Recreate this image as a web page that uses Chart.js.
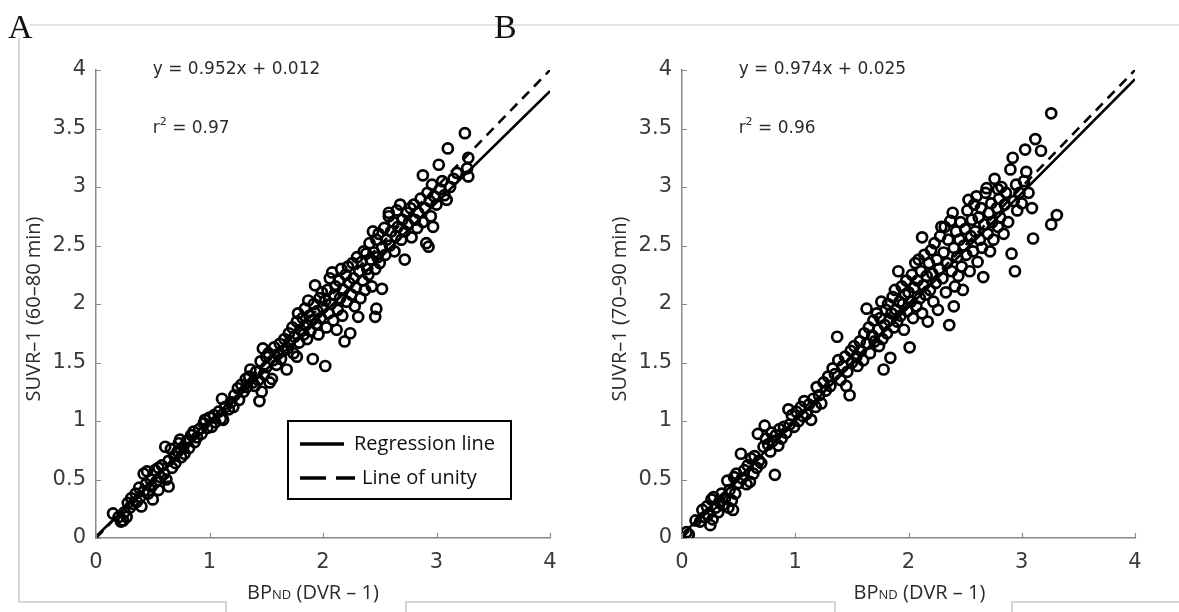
<!DOCTYPE html>
<html lang="en">
<head>
<meta charset="UTF-8">
<title>SUVR-1 vs BPND</title>
<script src="https://cdn.jsdelivr.net/npm/chart.js"></script>
<style>
  body { margin: 0; background: #fff; }
  #wrap { position: relative; width: 1179px; height: 612px; overflow: hidden; background: #fff; }
  #wrap canvas { position: absolute; top: 0; }
  .rule { position: absolute; background: #d6d6d6; }
  .tag { position: absolute; font-family: "Liberation Serif", "DejaVu Serif", serif; font-size: 34px; line-height: 1; color: #111; }
</style>
</head>
<body>
<div id="wrap">
  <!-- thin frame around the two panels -->
  <div class="rule" style="left:30px;top:24px;width:1149px;height:2px;background:#e2e2e2"></div>
  <div class="rule" style="left:18px;top:38px;width:2px;height:565px"></div>
  <div class="rule" style="left:18px;top:601px;width:208px;height:2px"></div>
  <div class="rule" style="left:225px;top:601px;width:2px;height:11px"></div>
  <div class="rule" style="left:405px;top:601px;width:430px;height:2px"></div>
  <div class="rule" style="left:405px;top:601px;width:2px;height:11px"></div>
  <div class="rule" style="left:834px;top:601px;width:2px;height:11px"></div>
  <div class="rule" style="left:1011px;top:601px;width:168px;height:2px"></div>
  <div class="rule" style="left:1011px;top:601px;width:2px;height:11px"></div>

  <canvas id="panelA" width="590" height="612" style="left:0"></canvas>
  <canvas id="panelB" width="589" height="612" style="left:590px"></canvas>

  <div class="tag" style="left:8px;top:10px">A</div>
  <div class="tag" style="left:494px;top:10px">B</div>
</div>

<script>
// axis ticks shared by both panels
const xTicks = [0, 1, 2, 3, 4];
const yTicks = [0, 0.5, 1, 1.5, 2, 2.5, 3, 3.5, 4];

// regression fits printed on each panel
const fitA = [0.952, 0.012];
const fitB = [0.974, 0.025];
const r2A = 0.97;
const r2B = 0.96;

const yTitleA = 'SUVR\u20131 (60\u201380 min)';
const yTitleB = 'SUVR\u20131 (70\u201390 min)';
const legendLabels = ['Regression line', 'Line of unity'];

// [BPND, SUVR-1] per region, 60-80 min window
const pointsA = [
  [0.15,0.21],[0.20,0.18],[0.22,0.14],[0.24,0.15],[0.25,0.22],[0.27,0.18],[0.28,0.30],[0.30,0.26],
  [0.31,0.34],[0.33,0.29],[0.35,0.38],[0.36,0.31],[0.38,0.43],[0.39,0.35],[0.40,0.27],[0.42,0.40],
  [0.42,0.55],[0.44,0.46],[0.45,0.57],[0.46,0.38],[0.48,0.50],[0.49,0.44],[0.50,0.33],
  [0.52,0.58],[0.53,0.48],[0.55,0.41],[0.55,0.60],[0.57,0.52],[0.58,0.62],[0.60,0.55],[0.61,0.78],
  [0.62,0.50],[0.64,0.44],[0.64,0.66],[0.66,0.76],[0.67,0.60],[0.69,0.70],[0.70,0.64],[0.72,0.74],
  [0.73,0.81],[0.74,0.84],[0.75,0.69],[0.77,0.78],[0.78,0.72],[0.80,0.83],[0.82,0.77],[0.84,0.88],
  [0.86,0.91],[0.87,0.82],[0.89,0.86],[0.91,0.93],[0.93,0.89],[0.95,0.98],[0.96,1.01],[0.98,0.94],
  [1.00,1.03],[1.02,0.95],
  [1.04,1.05],[1.05,0.99],[1.08,1.08],[1.10,1.02],[1.11,1.19],[1.12,1.01],[1.14,1.12],[1.17,1.10],
  [1.19,1.16],[1.21,1.12],[1.22,1.22],[1.25,1.28],[1.26,1.18],[1.28,1.31],[1.30,1.25],[1.32,1.36],
  [1.33,1.29],[1.35,1.38],[1.36,1.44],[1.38,1.33],[1.40,1.30],[1.41,1.42],[1.43,1.35],[1.44,1.17],
  [1.45,1.51],[1.46,1.25],[1.47,1.62],[1.48,1.40],[1.50,1.55],[1.50,1.46],
  [1.52,1.58],[1.53,1.33],[1.55,1.36],[1.56,1.52],[1.57,1.63],[1.59,1.48],[1.60,1.57],[1.62,1.66],
  [1.63,1.53],[1.65,1.60],[1.66,1.70],[1.68,1.44],[1.69,1.62],[1.70,1.75],[1.71,1.68],[1.73,1.80],
  [1.74,1.58],[1.75,1.72],[1.77,1.55],[1.77,1.85],[1.78,1.92],[1.79,1.67],[1.80,1.78],[1.82,1.88],
  [1.83,1.74],[1.84,1.96],[1.85,1.82],[1.86,1.70],[1.87,2.03],[1.88,1.90],[1.89,1.77],[1.90,1.86],
  [1.91,1.53],[1.92,2.00],[1.93,2.16],[1.94,1.83],[1.95,1.94],[1.96,1.74],[1.97,2.05],[1.98,1.88],
  [1.99,2.10],[2.00,1.97],
  [2.02,1.47],[2.02,2.03],[2.03,1.80],[2.04,2.12],[2.05,1.92],[2.06,2.22],[2.07,2.00],[2.08,2.27],
  [2.09,1.86],[2.10,2.08],[2.11,2.15],[2.12,1.78],[2.13,1.95],[2.14,2.20],[2.15,2.05],[2.16,2.30],
  [2.17,1.90],[2.18,2.12],[2.19,1.68],[2.20,2.25],[2.21,2.02],[2.22,2.32],[2.23,2.18],[2.24,1.75],
  [2.25,2.08],[2.26,2.35],[2.27,2.22],[2.28,1.98],[2.29,2.14],[2.30,2.40],[2.31,1.89],[2.32,2.28],
  [2.33,2.05],[2.34,2.36],[2.35,2.20],[2.36,2.45],[2.37,2.12],[2.38,2.43],[2.39,2.30],[2.40,2.25],
  [2.41,2.52],[2.42,2.38],[2.43,2.15],[2.44,2.62],[2.45,2.44],[2.46,1.89],[2.46,2.30],[2.47,1.96],
  [2.47,2.55],[2.48,2.40],[2.49,2.60],[2.50,2.35],[2.52,2.13],
  [2.52,2.48],[2.54,2.65],[2.55,2.42],[2.56,2.55],[2.58,2.78],[2.58,2.75],[2.59,2.50],[2.60,2.62],
  [2.62,2.70],[2.63,2.45],[2.64,2.58],[2.65,2.80],[2.66,2.66],[2.68,2.85],[2.69,2.55],[2.70,2.72],
  [2.72,2.38],[2.72,2.62],[2.74,2.78],[2.75,2.68],[2.77,2.82],[2.78,2.57],[2.80,2.85],[2.81,2.72],
  [2.83,2.65],[2.84,2.78],[2.86,2.90],[2.88,3.10],[2.88,2.70],[2.90,2.82],[2.91,2.52],[2.92,2.95],
  [2.93,2.49],[2.94,2.88],[2.95,2.75],[2.96,3.02],[2.97,2.66],[2.98,2.92],[3.00,2.85],[3.02,3.19],
  [3.03,2.98],[3.05,3.05],[3.07,2.93],[3.09,2.89],[3.10,3.33],[3.12,3.00],[3.15,3.07],[3.18,3.12],
  [3.25,3.46],[3.27,3.16],[3.28,3.25],[3.28,3.09]
];

// [BPND, SUVR-1] per region, 70-90 min window
const pointsB = [
  [0.04,0.05],[0.06,0.03],[0.12,0.15],[0.16,0.14],[0.18,0.24],[0.20,0.18],[0.22,0.27],[0.23,0.20],
  [0.25,0.11],[0.26,0.33],[0.27,0.16],[0.28,0.35],[0.30,0.26],[0.32,0.22],[0.33,0.31],[0.35,0.38],
  [0.36,0.28],[0.38,0.34],[0.40,0.49],[0.41,0.26],[0.42,0.41],[0.44,0.32],[0.45,0.24],[0.46,0.52],
  [0.47,0.38],[0.48,0.55],[0.50,0.47],
  [0.52,0.72],[0.53,0.51],[0.55,0.58],[0.57,0.46],[0.58,0.62],[0.60,0.48],[0.61,0.68],[0.63,0.55],
  [0.64,0.70],[0.66,0.60],[0.67,0.89],[0.68,0.66],[0.70,0.64],[0.72,0.78],[0.73,0.96],[0.74,0.85],
  [0.76,0.80],[0.78,0.74],[0.79,0.90],[0.80,0.83],[0.82,0.54],[0.83,0.88],[0.85,0.79],[0.86,0.93],
  [0.88,0.85],[0.90,0.95],[0.92,0.90],[0.94,1.10],[0.95,0.97],[0.97,1.05],[0.99,0.95],
  [1.01,1.08],[1.03,1.00],[1.05,1.12],[1.07,1.04],[1.08,1.17],[1.10,1.06],[1.12,1.14],[1.14,1.01],
  [1.16,1.19],[1.18,1.12],[1.19,1.29],[1.21,1.22],[1.23,1.15],[1.25,1.33],[1.27,1.26],[1.29,1.38],
  [1.31,1.30],[1.33,1.45],[1.35,1.40],[1.37,1.72],[1.38,1.52],[1.40,1.35],[1.42,1.47],[1.44,1.55],
  [1.45,1.30],[1.46,1.42],[1.48,1.22],[1.49,1.60],[1.50,1.50],
  [1.52,1.64],[1.54,1.55],[1.55,1.47],[1.57,1.68],[1.58,1.60],[1.60,1.52],[1.61,1.75],[1.63,1.96],
  [1.63,1.66],[1.65,1.80],[1.66,1.58],[1.68,1.73],[1.69,1.86],[1.70,1.68],[1.72,1.92],[1.73,1.78],
  [1.74,1.64],[1.75,1.88],[1.76,2.02],[1.77,1.70],[1.78,1.44],[1.79,1.82],[1.80,1.95],[1.81,1.75],
  [1.82,2.00],[1.83,1.86],[1.84,1.54],[1.85,1.92],[1.86,2.06],[1.87,1.80],[1.88,2.12],[1.89,1.95],
  [1.90,1.85],[1.91,2.28],[1.92,2.02],[1.93,1.90],[1.94,2.15],[1.95,2.00],[1.96,1.78],[1.97,2.08],
  [1.98,2.20],[1.99,1.94],[2.00,2.10],
  [2.01,1.63],[2.02,2.02],[2.03,2.25],[2.04,1.88],[2.05,2.14],[2.06,2.35],[2.07,1.98],[2.08,2.20],
  [2.09,2.38],[2.10,2.05],[2.11,2.28],[2.12,2.57],[2.12,1.92],[2.13,2.16],[2.14,2.42],[2.15,2.08],
  [2.16,2.24],[2.17,1.85],[2.18,2.35],[2.19,2.12],[2.20,2.46],[2.21,2.26],[2.22,2.02],[2.23,2.52],
  [2.24,2.18],[2.25,2.38],[2.26,1.95],[2.27,2.30],[2.28,2.58],[2.29,2.66],[2.30,2.22],[2.31,2.44],
  [2.32,2.66],[2.33,2.10],[2.34,2.35],[2.35,2.55],[2.36,1.82],[2.37,2.71],[2.38,2.28],[2.40,1.98],
  [2.39,2.78],[2.40,2.48],[2.41,2.15],[2.42,2.62],[2.43,2.40],[2.44,2.24],[2.45,2.55],[2.46,2.70],
  [2.47,2.32],[2.48,2.12],[2.49,2.50],[2.50,2.64],
  [2.51,2.42],[2.52,2.80],[2.53,2.89],[2.54,2.28],[2.55,2.58],[2.56,2.72],[2.57,2.45],[2.58,2.85],
  [2.59,2.62],[2.60,2.92],[2.61,2.36],[2.62,2.74],[2.63,2.55],[2.64,2.82],[2.65,2.48],[2.66,2.23],
  [2.67,2.68],[2.68,2.95],[2.69,2.99],[2.70,2.60],[2.71,2.78],[2.72,2.45],[2.73,2.86],[2.74,2.70],
  [2.75,2.55],[2.76,3.07],[2.79,2.98],[2.78,2.82],[2.79,2.66],[2.80,2.90],[2.81,2.74],[2.82,3.00],
  [2.84,2.60],[2.85,2.85],[2.86,2.95],[2.88,2.70],[2.90,3.15],[2.91,2.43],[2.92,3.25],[2.93,2.88],
  [2.94,2.28],[2.95,3.02],[2.96,2.80],[2.98,2.95],[3.00,2.86],[3.02,3.05],[3.03,3.32],[3.04,3.13],
  [3.06,2.95],[3.09,2.82],[3.10,2.56],[3.12,3.41],[3.17,3.31],[3.26,3.63],[3.26,2.68],
  [3.31,2.76]
];

const AXIS = '#8a8a8a';
const TEXT = '#2b2b2b';
const SANS = '"Open Sans", "Noto Sans", sans-serif';

// tick marks, fit text, axis titles and the legend box
const decor = {
  id: 'decor',
  afterDraw(chart, _args, o) {
    const { ctx, chartArea: a, scales: { x, y } } = chart;
    ctx.save();

    // ticks point into the plot
    ctx.strokeStyle = AXIS;
    ctx.lineWidth = 1.2;
    ctx.beginPath();
    yTicks.forEach(v => {
      const py = Math.round(y.getPixelForValue(v)) + 0.5;
      ctx.moveTo(a.left, py); ctx.lineTo(a.left + 5, py);
    });
    xTicks.forEach(v => {
      const px = Math.round(x.getPixelForValue(v)) + 0.5;
      ctx.moveTo(px, a.bottom); ctx.lineTo(px, a.bottom - 5);
    });
    ctx.stroke();

    // fit equation and r^2
    ctx.fillStyle = TEXT;
    ctx.textAlign = 'left';
    ctx.textBaseline = 'middle';
    const big = '17px "DejaVu Sans"', small = '11px "DejaVu Sans"';
    const tx = x.getPixelForValue(0.5);
    ctx.font = big;
    ctx.fillText('y = ' + o.fit[0].toFixed(3) + 'x + ' + o.fit[1].toFixed(3), tx, y.getPixelForValue(4));
    const ry = y.getPixelForValue(3.5);
    let cx = tx;
    ctx.fillText('r', cx, ry); cx += ctx.measureText('r').width;
    ctx.font = small;
    ctx.fillText('2', cx, ry - 6); cx += ctx.measureText('2').width;
    ctx.font = big;
    ctx.fillText(' = ' + o.r2.toFixed(2), cx, ry);

    // y title, rotated
    ctx.save();
    ctx.translate(a.left - 62, (a.top + a.bottom) / 2 + 5);
    ctx.rotate(-Math.PI / 2);
    ctx.textAlign = 'center';
    ctx.font = '20px ' + SANS;
    ctx.fillText(o.yTitle, 0, 0);
    ctx.restore();

    // x title: BP with subscript ND
    const f1 = '20px ' + SANS, f2 = '13px ' + SANS;
    const parts = [['BP', f1], ['ND', f2], [' (DVR \u2013 1)', f1]];
    let w = 0;
    parts.forEach(p => { ctx.font = p[1]; w += ctx.measureText(p[0]).width; });
    let sx = (a.left + a.right) / 2 + o.xTitleShift - w / 2;
    ctx.textBaseline = 'alphabetic';
    parts.forEach(p => {
      ctx.font = p[1];
      ctx.fillText(p[0], sx, 599);
      sx += ctx.measureText(p[0]).width;
    });

    // legend box
    if (o.legend) {
      const lx = a.left + 192, ly = a.top + 351, lw = 223, lh = 78;
      ctx.fillStyle = '#fff';
      ctx.fillRect(lx, ly, lw, lh);
      ctx.strokeStyle = '#000';
      ctx.lineWidth = 2;
      ctx.strokeRect(lx, ly, lw, lh);
      ctx.lineWidth = 3.5;
      ctx.beginPath();
      ctx.moveTo(lx + 12, ly + 23); ctx.lineTo(lx + 56, ly + 23);
      ctx.stroke();
      ctx.setLineDash([26, 10]);
      ctx.beginPath();
      ctx.moveTo(lx + 12, ly + 57); ctx.lineTo(lx + 67, ly + 57);
      ctx.stroke();
      ctx.setLineDash([]);
      ctx.fillStyle = '#111';
      ctx.font = '20px ' + SANS;
      ctx.textBaseline = 'middle';
      ctx.fillText(legendLabels[0], lx + 66, ly + 23);
      ctx.fillText(legendLabels[1], lx + 74, ly + 57);
    }
    ctx.restore();
  }
};

function panel(id, points, fit, r2, yTitle, pad, xTitleShift, legend) {
  const pts = points.map(p => ({ x: p[0], y: p[1] }));
  const regLine = [{ x: 0, y: fit[1] }, { x: 4, y: fit[0] * 4 + fit[1] }];
  const unity = [{ x: 0, y: 0 }, { x: 4, y: 4 }];
  const axisFont = { family: '"DejaVu Sans"', size: 21 };
  const plain = v => String(Math.round(v * 10) / 10);
  return new Chart(document.getElementById(id), {
    type: 'scatter',
    data: {
      datasets: [
        { data: regLine, showLine: true, borderColor: '#000', borderWidth: 2.6, pointRadius: 0 },
        { data: unity, showLine: true, borderColor: '#000', borderWidth: 2.6, borderDash: [10, 7], pointRadius: 0 },
        { data: pts, pointStyle: 'circle', pointRadius: 5, borderWidth: 2.7,
          borderColor: '#000', backgroundColor: 'rgba(255,255,255,0)', pointHoverRadius: 5 }
      ]
    },
    options: {
      responsive: false,
      animation: false,
      devicePixelRatio: 1,
      layout: { padding: pad },
      plugins: {
        legend: { display: false },
        tooltip: { enabled: false },
        decor: { fit: fit, r2: r2, yTitle: yTitle, xTitleShift: xTitleShift, legend: legend }
      },
      scales: {
        x: {
          type: 'linear', min: 0, max: 4,
          afterBuildTicks: s => { s.ticks = xTicks.map(v => ({ value: v })); },
          afterFit: s => { s.height = 44; },
          grid: { display: false, drawTicks: false },
          border: { display: true, color: AXIS, width: 1.5 },
          ticks: { color: '#3a3a3a', font: axisFont, padding: 12, callback: plain }
        },
        y: {
          type: 'linear', min: 0, max: 4,
          afterBuildTicks: s => { s.ticks = yTicks.map(v => ({ value: v })); },
          afterFit: s => { s.width = 80; },
          grid: { display: false, drawTicks: false },
          border: { display: true, color: AXIS, width: 1.5 },
          ticks: { color: '#3a3a3a', font: axisFont, padding: 10, callback: plain }
        }
      }
    },
    plugins: [decor]
  });
}

panel('panelA', pointsA, fitA, r2A, yTitleA, { left: 16, right: 40, top: 70, bottom: 30 }, -10, true);
panel('panelB', pointsB, fitB, r2B, yTitleB, { left: 12, right: 44, top: 70, bottom: 30 }, 11, false);
</script>
</body>
</html>
